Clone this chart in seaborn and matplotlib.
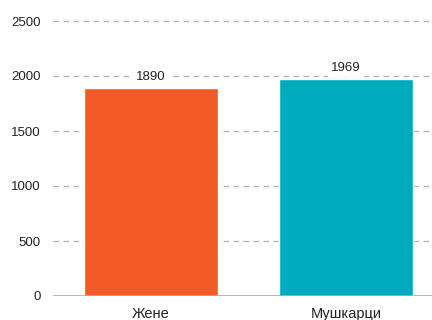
import matplotlib
matplotlib.use("Agg")
import matplotlib.pyplot as plt
import seaborn as sns
import pandas as pd

categories = ["Жене", "Мушкарци"]
values = [1890, 1969]
colors = ["#F15A24", "#00ABBD"]
yticks = [0, 500, 1000, 1500, 2000, 2500]

sns.set_theme(style="white")
plt.rcParams["font.family"] = ["Liberation Sans", "DejaVu Sans"]

df = pd.DataFrame({"group": categories, "count": values})

W, H = 432, 320
fig = plt.figure(figsize=(W / 100, H / 100), dpi=100)
px_per_unit = 55 / 500
y_top = 2550
ax_bottom = 296
ax_left = 53
ax_h = y_top * px_per_unit
ax = fig.add_axes([ax_left / W, 1 - ax_bottom / H, (W - ax_left) / W, ax_h / H])

sns.barplot(data=df, x="group", y="count", hue="group", palette=colors,
            width=0.69, legend=False, ax=ax, saturation=1, zorder=3)

ax.set_xlim(-0.503, 1.441)
ax.set_ylim(0, y_top)
ax.set_yticks(yticks)
ax.set_yticklabels([str(t) for t in yticks])
for t in yticks[1:]:
    ax.axhline(t, color="#b0b0b0", lw=0.9, ls=(0, (4.5, 3.5)), zorder=1)
ax.axhline(0, color="#aaaaaa", lw=1.2, zorder=4)

for s in ax.spines.values():
    s.set_visible(False)
ax.tick_params(axis="both", length=0, colors="#222222")
ax.tick_params(axis="y", pad=9, labelsize=9.5)
ax.tick_params(axis="x", pad=8, labelsize=10.5)
ax.set_xlabel("")
ax.set_ylabel("")

for i, v in enumerate(values):
    ax.annotate(str(v), (i, v), xytext=(0, 4), textcoords="offset points",
                ha="center", va="bottom", fontsize=9.5, color="#222222",
                bbox=dict(boxstyle="square,pad=0.25", fc="white", ec="none"),
                zorder=5)

fig.savefig("out.png", dpi=100)
